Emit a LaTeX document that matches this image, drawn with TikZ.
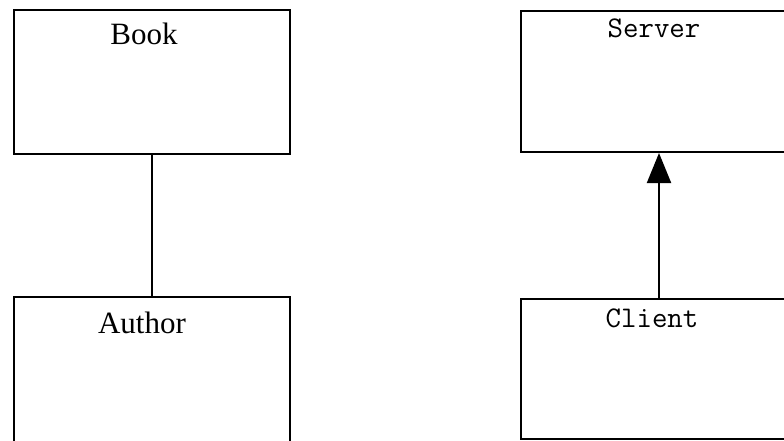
\documentclass[tikz,border=0pt]{standalone}
\usepackage{fontspec}
\setmainfont{Liberation Serif}
\usetikzlibrary{arrows.meta}
\tikzset{
  classbox/.style={draw, line width=2pt, inner sep=0pt, minimum width=276pt},
  serifname/.style={anchor=base, inner sep=0pt, font=\fontsize{31}{31}\selectfont},
  mononame/.style={anchor=base, inner sep=0pt, font=\ttfamily\fontsize{30}{30}\selectfont},
}
\begin{document}
\begin{tikzpicture}[x=1pt, y=1pt]
  \useasboundingbox (0,0) rectangle (784,440);
  \clip (0,0) rectangle (784,440);

  % association: Book -- Author
  \node[classbox, minimum height=144pt] (book) at (152,358) {};
  \node[classbox, minimum height=146pt] (author) at (152,70) {};
  \node[serifname] (booklbl) at (144,395) {Book};
  \node[serifname] (authorlbl) at (142,107) {Author};
  \draw[line width=2pt] (book.south) -- (author.north);

  % generalisation: Client -> Server
  \node[classbox, minimum height=141pt] (server) at (659,358.5) {};
  \node[classbox, minimum height=140pt] (client) at (659,71) {};
  \node[mononame] (serverlbl) at (654,402) {Server};
  \node[mononame] (clientlbl) at (652,113) {Client};
  \draw[line width=2pt, -{Triangle[width=24pt, length=30pt]}] (client.north) -- (server.south);
\end{tikzpicture}
\end{document}
